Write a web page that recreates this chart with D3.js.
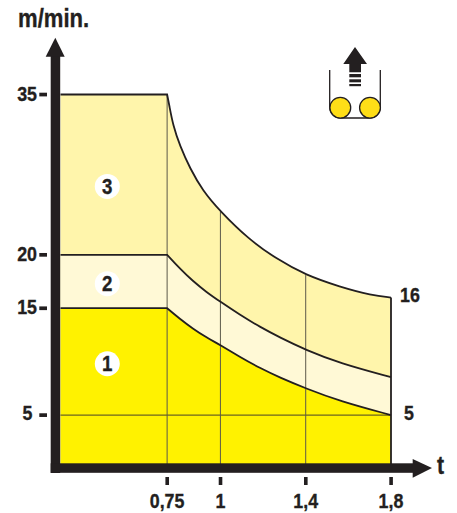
<!DOCTYPE html>
<html>
<head>
<meta charset="utf-8">
<script src="https://cdn.jsdelivr.net/npm/d3@7"></script>
<style>
  html, body { margin: 0; padding: 0; background: #fff; }
  svg { display: block; }
  text { font-family: "Liberation Sans", Arial, sans-serif; font-weight: 700; fill: #231f20; stroke: #231f20; stroke-width: 0.35; }
</style>
</head>
<body>
<div id="chart"></div>
<script>
// Speed curves, each one starts where its flat part ends
const startT = 0.25;
const curve3T = [0.75, 0.76, 0.778, 0.81, 0.857, 0.917, 1, 1.13, 1.264, 1.4, 1.56, 1.71, 1.8];
const curve3V = [35, 34, 32.1, 30.2, 28.1, 26, 24.05, 21.5, 19.6, 18.1, 17, 16.2, 16];
const curve2T = [0.75, 0.81, 0.87, 0.935, 1, 1.09, 1.185, 1.28, 1.4, 1.56, 1.8];
const curve2V = [20, 18.7, 17.55, 16.5, 15.6, 14.4, 13.25, 12.25, 11.1, 9.85, 8.55];
const curve1T = [0.75, 0.81, 0.87, 0.935, 1, 1.09, 1.185, 1.28, 1.4, 1.56, 1.8];
const curve1V = [15, 14, 13.1, 12.25, 11.55, 10.45, 9.4, 8.5, 7.5, 6.3, 5];

const yTicks = [35, 20, 15, 5];
const xTicks = [0.75, 1, 1.4, 1.8];
const xTickLabels = ['0,75', '1', '1,4', '1,8'];
const zoneLabels = ['1', '2', '3'];
const zoneSpeeds = [9.8, 17.3, 26.4];

const width = 457;
const height = 513;
const axisColor = '#231f20';
const narrow = 0.85;

const x = d3.scaleLinear().domain([startT, 1.8]).range([60.5, 391]);
const y = d3.scaleLinear().domain([0, 35]).range([468.5, 94.5]);

const svg = d3.select('#chart').append('svg')
    .attr('width', width)
    .attr('height', height);

// The reference type is condensed, so squeeze it horizontally
function addText(label, px, py, size, anchor) {
    return svg.append('text')
        .attr('transform', `translate(${px},${py}) scale(${narrow},1)`)
        .attr('text-anchor', anchor || 'start')
        .attr('font-size', size)
        .text(label);
}

const smooth = d3.line().x(d => x(d[0])).y(d => y(d[1])).curve(d3.curveBasis);

function zonePath(ts, vs) {
    const pts = ts.map((t, i) => [t, vs[i]]);
    return `M${x(startT)},${y(vs[0])}L${smooth(pts).slice(1)}`;
}

// Zones, biggest first
[[curve3T, curve3V, '#fff5ab'], [curve2T, curve2V, '#fff9d6'], [curve1T, curve1V, '#fff200']].forEach(([ts, vs, col]) => {
    svg.append('path')
        .attr('d', `${zonePath(ts, vs)}L${x(1.8)},${y(0)}L${x(startT)},${y(0)}Z`)
        .attr('fill', col);
});

// Grid lines
svg.append('line')
    .attr('x1', x(startT)).attr('x2', x(1.8))
    .attr('y1', y(5)).attr('y2', y(5))
    .attr('stroke', '#6b6420').attr('stroke-width', 1.2);

xTicks.slice(0, 3).forEach(t => {
    svg.append('line')
        .attr('x1', x(t)).attr('x2', x(t))
        .attr('y1', y(curve3V[curve3T.indexOf(t)] || 18)).attr('y2', y(0))
        .attr('stroke', '#5c594a').attr('stroke-width', 1);
});

// Curves
[[curve3T, curve3V], [curve2T, curve2V], [curve1T, curve1V]].forEach(([ts, vs]) => {
    svg.append('path').attr('d', zonePath(ts, vs))
        .attr('fill', 'none').attr('stroke', axisColor).attr('stroke-width', 1.8);
});
svg.append('line')
    .attr('x1', x(1.8)).attr('x2', x(1.8))
    .attr('y1', y(16)).attr('y2', y(0))
    .attr('stroke', axisColor).attr('stroke-width', 1.8);

// Axes
svg.append('rect').attr('x', 50.7).attr('y', 56).attr('width', 9.5).attr('height', 417).attr('fill', axisColor);
svg.append('rect').attr('x', 50.7).attr('y', 463.3).attr('width', 364).attr('height', 9.5).attr('fill', axisColor);
svg.append('path').attr('d', d3.line()([[45.7, 56.7], [55.3, 37.7], [64.7, 56.7]])).attr('fill', axisColor);
svg.append('path').attr('d', d3.line()([[412.7, 459], [432, 468], [412.7, 477.7]])).attr('fill', axisColor);

// Y ticks
svg.selectAll('.y-tick').data(yTicks).enter().append('rect')
    .attr('class', 'y-tick')
    .attr('x', 39.3).attr('width', 7.7).attr('height', 3.7)
    .attr('y', d => y(d) - 1.8).attr('fill', axisColor);
yTicks.forEach(d => {
    if (d === 5) addText(d, 32.5, y(d) + 4.5, 21, 'end');
    else addText(d, 37, y(d) + 6, 21, 'end');
});

// X ticks
svg.selectAll('.x-tick').data(xTicks).enter().append('rect')
    .attr('class', 'x-tick')
    .attr('x', d => x(d) - 1.7).attr('y', 477).attr('width', 3.6).attr('height', 8)
    .attr('fill', axisColor);
xTicks.forEach((d, i) => addText(xTickLabels[i], x(d), 508, 21, 'middle'));

// Zone badges
zoneLabels.forEach((lab, i) => {
    const cx = 107.3;
    svg.append('circle').attr('cx', cx).attr('cy', y(zoneSpeeds[i])).attr('r', 12.5).attr('fill', '#fff');
    addText(lab, cx, y(zoneSpeeds[i]) + 7.7, 22, 'middle');
});

// Titles and end labels
addText('m/min.', 18, 27, 26);
addText('t', 437, 474, 25);
addText('16', 400, 302, 21);
addText('5', 404, 419.5, 21);

// Roller icon
const icon = svg.append('g');
icon.append('path')
    .attr('d', 'M329.7,70 V107 a11,11 0 0 0 11,11 H369.3 a11,11 0 0 0 11,-11 V70')
    .attr('fill', 'none').attr('stroke', axisColor).attr('stroke-width', 1.3);
[340.3, 370].forEach(cx => {
    icon.append('circle').attr('cx', cx).attr('cy', 107.7).attr('r', 10.4)
        .attr('fill', '#ffde17').attr('stroke', axisColor).attr('stroke-width', 1.3);
});
icon.append('path')
    .attr('d', d3.line()([[355, 47], [367, 64], [361, 64], [361, 72.3], [349.3, 72.3], [349.3, 64], [343.3, 64]]))
    .attr('fill', axisColor);
[[74, 3.3], [79.3, 3], [84, 2.2]].forEach(([yy, h]) => {
    icon.append('rect').attr('x', 349.3).attr('y', yy).attr('width', 11.7).attr('height', h).attr('fill', axisColor);
});
</script>
</body>
</html>
